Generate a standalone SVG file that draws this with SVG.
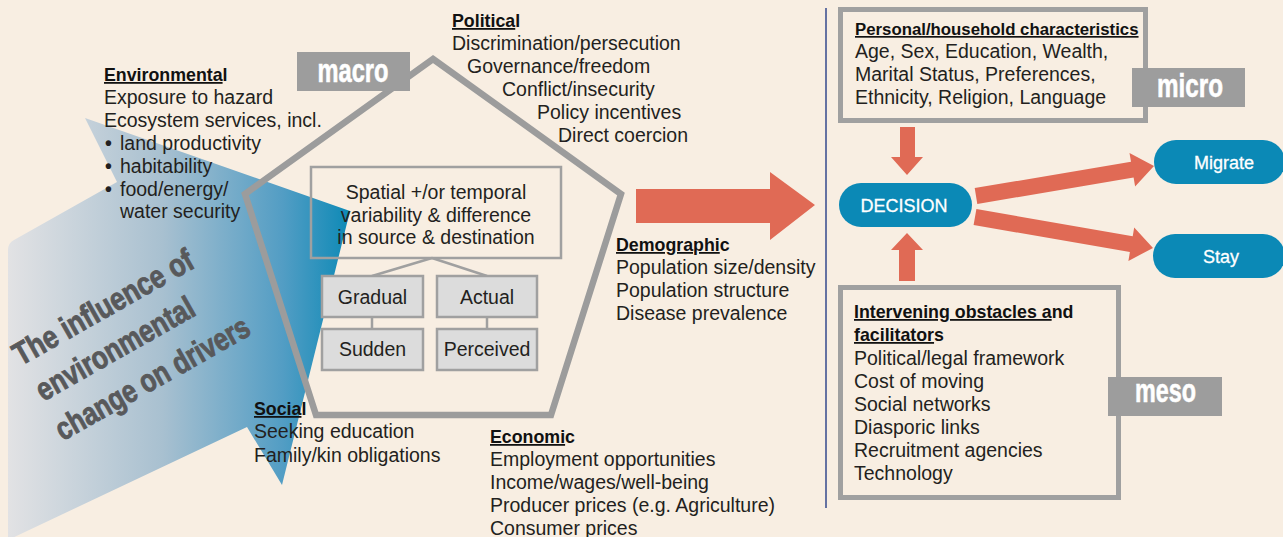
<svg xmlns="http://www.w3.org/2000/svg" width="1283" height="537" viewBox="0 0 1283 537">
<defs>
<linearGradient id="blueGrad" gradientUnits="userSpaceOnUse" x1="8" y1="0" x2="352" y2="0">
<stop offset="0" stop-color="#e2e2e4"/>
<stop offset="0.45" stop-color="#a8c0d0"/>
<stop offset="0.8" stop-color="#529dc4"/>
<stop offset="1" stop-color="#0b89b6"/>
</linearGradient>
<style>
text{font-family:"Liberation Sans",Arial,Helvetica,sans-serif;fill:#231f20;}
.t{font-size:19.5px;}
.h{font-size:17.8px;font-weight:bold;fill:#111;}
.u{text-decoration:underline;}
.lvl{fill:#9d9d9d;}
.lvlt{font-size:34px;font-weight:bold;fill:#ffffff;stroke:#ffffff;stroke-width:0.6;text-anchor:middle;}
.rot{font-size:32px;font-weight:bold;fill:#58595b;stroke:#58595b;stroke-width:0.9;text-anchor:middle;}
.gbox{fill:none;stroke:#a0a0a0;stroke-width:2.5;}
.sbox{fill:#dcdcdc;stroke:#a0a0a0;stroke-width:2.5;}
.bbox{fill:none;stroke:#a0a0a0;stroke-width:5;}
.pill{fill:#0b89b6;}
.pt{font-size:18px;fill:#ffffff;stroke:#ffffff;stroke-width:0.3;text-anchor:middle;}
.ct{text-anchor:middle;}
.orange{fill:#e06a55;}
.line{stroke:#a0a0a0;stroke-width:2.5;fill:none;}
.bul{font-weight:bold;}
</style>
</defs>
<rect x="0" y="0" width="1283" height="537" fill="#f8eee2"/>

<g id="env-arrow">
<path d="M8,250 Q8,243 14,240 L117,182 L85,118 L350,211 L282,485 L247,427 L8,540 Z" fill="url(#blueGrad)"/>
<g transform="translate(103,307) rotate(-29.5)">
<text class="rot" x="0" y="11" textLength="202" lengthAdjust="spacingAndGlyphs">The influence of</text>
<text class="rot" x="-10" y="53" textLength="177" lengthAdjust="spacingAndGlyphs">environmental</text>
<text class="rot" x="8" y="97" textLength="218" lengthAdjust="spacingAndGlyphs">change on drivers</text>
</g>
</g>

<g id="macro-pentagon">
<polygon points="433,59 621,194 551,415 316,415 245,194" fill="none" stroke="#9c9c9c" stroke-width="6.5" stroke-linejoin="miter"/>
</g>

<g id="macro-label">
<rect class="lvl" x="297" y="52" width="113" height="39"/>
<text class="lvlt" x="353" y="82" textLength="71" lengthAdjust="spacingAndGlyphs">macro</text>
</g>

<g id="connectors">
<polygon class="orange" points="636,189 770,189 770,172 815,205 770,240 770,223 636,223"/>
<polygon class="orange" points="900,127 915,127 915,157 923,157 907,175 891,157 900,157"/>
<polygon class="orange" points="899,281 915,281 915,250 923,250 907,233 891,250 899,250"/>
<polygon class="orange" points="974.7,188.1 1131,161.8 1129.5,152.9 1154,166 1135.1,186.5 1133.6,177.6 977.3,203.9"/>
<polygon class="orange" points="976.4,209.1 1132.7,236.3 1134.2,227.5 1153,248 1128.4,260.9 1129.9,252.1 973.6,224.9"/>
<line class="line" x1="432" y1="258" x2="372" y2="276"/>
<line class="line" x1="432" y1="258" x2="487" y2="276"/>
<line class="line" x1="372" y1="317" x2="372" y2="329"/>
<line class="line" x1="487" y1="317" x2="487" y2="329"/>
<line x1="826" y1="8" x2="826" y2="508" stroke="#34488c" stroke-width="1.5"/>
</g>

<g id="spatial-box">
<rect class="gbox" x="311" y="167" width="250" height="91"/>
<text class="t ct" x="436" y="199">Spatial +/or temporal</text>
<text class="t ct" x="436" y="222">variability &amp; difference</text>
<text class="t ct" x="436" y="244">in source &amp; destination</text>
</g>

<g id="gradual">
<rect class="sbox" x="322" y="276" width="101" height="41"/>
<text class="t ct" x="372.5" y="304">Gradual</text>
</g>
<g id="sudden">
<rect class="sbox" x="322" y="329" width="101" height="41"/>
<text class="t ct" x="372.5" y="356">Sudden</text>
</g>
<g id="actual">
<rect class="sbox" x="437" y="276" width="100" height="41"/>
<text class="t ct" x="487" y="304">Actual</text>
</g>
<g id="perceived">
<rect class="sbox" x="437" y="329" width="100" height="41"/>
<text class="t ct" x="487" y="356">Perceived</text>
</g>

<g id="environmental">
<text class="h" x="104" y="81"><tspan class="u">Environmenta</tspan>l</text>
<text class="t" x="104" y="104">Exposure to hazard</text>
<text class="t" x="104" y="127">Ecosystem services, incl.</text>
<text class="t" x="105" y="150"><tspan class="bul">•</tspan><tspan x="120">land productivity</tspan></text>
<text class="t" x="105" y="173"><tspan class="bul">•</tspan><tspan x="120">habitability</tspan></text>
<text class="t" x="105" y="196"><tspan class="bul">•</tspan><tspan x="120">food/energy/</tspan></text>
<text class="t" x="120" y="218">water security</text>
</g>

<g id="political">
<text class="h" x="452" y="27"><tspan class="u">Politica</tspan>l</text>
<text class="t" x="452" y="50">Discrimination/persecution</text>
<text class="t" x="467" y="73">Governance/freedom</text>
<text class="t" x="502" y="96">Conflict/insecurity</text>
<text class="t" x="537" y="119">Policy incentives</text>
<text class="t" x="558" y="142">Direct coercion</text>
</g>

<g id="demographic">
<text class="h" x="616" y="251"><tspan class="u">Demographi</tspan>c</text>
<text class="t" x="616" y="274">Population size/density</text>
<text class="t" x="616" y="297">Population structure</text>
<text class="t" x="616" y="320">Disease prevalence</text>
</g>

<g id="social">
<text class="h" x="254" y="415"><tspan class="u">Socia</tspan>l</text>
<text class="t" x="254" y="438">Seeking education</text>
<text class="t" x="254" y="462">Family/kin obligations</text>
</g>

<g id="economic">
<text class="h" x="490" y="443"><tspan class="u">Economi</tspan>c</text>
<text class="t" x="490" y="466">Employment opportunities</text>
<text class="t" x="490" y="489">Income/wages/well-being</text>
<text class="t" x="490" y="512">Producer prices (e.g. Agriculture)</text>
<text class="t" x="490" y="535">Consumer prices</text>
</g>

<g id="personal">
<rect class="bbox" x="840.5" y="9.5" width="305" height="111"/>
<text class="h u" x="855" y="35" style="font-size:16.8px">Personal/household characteristics</text>
<text class="t" x="855" y="58">Age, Sex, Education, Wealth,</text>
<text class="t" x="855" y="81">Marital Status, Preferences,</text>
<text class="t" x="855" y="104">Ethnicity, Religion, Language</text>
</g>

<g id="micro-label">
<rect class="lvl" x="1132" y="68" width="113" height="39"/>
<text class="lvlt" x="1190" y="97" textLength="66" lengthAdjust="spacingAndGlyphs">micro</text>
</g>

<g id="decision">
<rect class="pill" x="839" y="183" width="133" height="44" rx="22"/>
<text class="pt" x="904" y="211.5">DECISION</text>
</g>
<g id="migrate">
<rect class="pill" x="1154" y="140" width="131" height="44" rx="22"/>
<text class="pt" x="1224" y="168.5">Migrate</text>
</g>
<g id="stay">
<rect class="pill" x="1153" y="234" width="132" height="44" rx="22"/>
<text class="pt" x="1221" y="262.5">Stay</text>
</g>

<g id="intervening">
<rect class="bbox" x="840.5" y="287.5" width="278" height="210"/>
<text class="h" x="854" y="318"><tspan class="u">Intervening obstacles a</tspan>nd</text>
<text class="h" x="854" y="341"><tspan class="u">facilitator</tspan>s</text>
<text class="t" x="854" y="365">Political/legal framework</text>
<text class="t" x="854" y="388">Cost of moving</text>
<text class="t" x="854" y="411">Social networks</text>
<text class="t" x="854" y="434">Diasporic links</text>
<text class="t" x="854" y="457">Recruitment agencies</text>
<text class="t" x="854" y="480">Technology</text>
</g>

<g id="meso-label">
<rect class="lvl" x="1108" y="377" width="114" height="39"/>
<text class="lvlt" x="1165.5" y="402" textLength="61" lengthAdjust="spacingAndGlyphs">meso</text>
</g>
</svg>
